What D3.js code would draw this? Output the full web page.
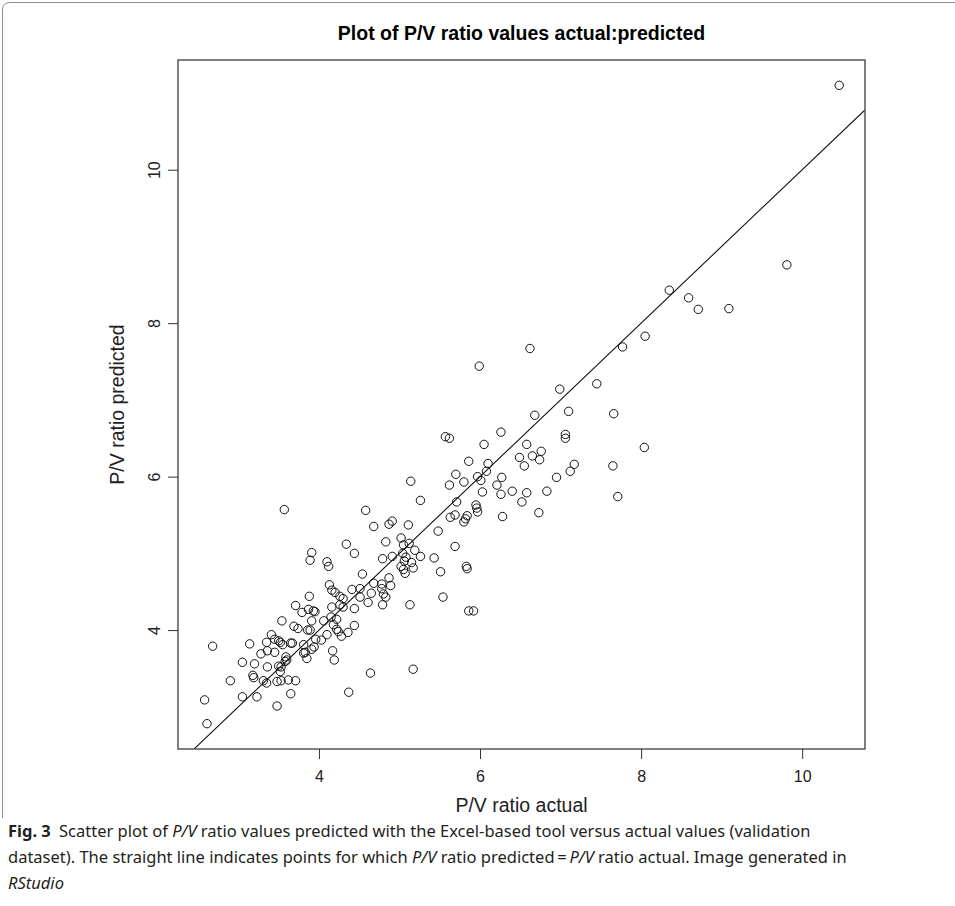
<!DOCTYPE html>
<html>
<head>
<meta charset="utf-8">
<script src="https://cdn.jsdelivr.net/npm/d3@7"></script>
<style>
  body { margin: 0; background: #fff; }
  svg { display: block; }
</style>
</head>
<body>
<script>
// P/V ratio actual (x) and predicted (y)
const actual = [
  3.71, 3.79, 3.87, 3.93, 3.95, 4.16, 4.26, 4.30, 3.54, 3.69, 3.74, 3.91, 3.86, 3.89, 4.06, 4.15,
  4.22, 4.18, 4.22, 4.24, 4.28, 4.36, 2.68, 3.14, 3.41, 3.35, 3.45, 3.50, 3.52, 3.55, 3.65, 3.67,
  3.81, 3.96, 4.03, 4.10, 3.28, 3.36, 3.45, 3.59, 3.81, 3.83, 3.85, 3.91, 3.94, 4.17, 4.19, 3.05,
  3.20, 3.36, 3.50, 3.53, 3.58, 3.60, 3.52, 3.18, 3.19, 2.90, 3.31, 3.35, 3.48, 3.53, 3.62, 3.71,
  3.05, 3.23, 3.65, 2.58, 3.48, 2.61, 4.37,
  4.44, 4.61, 4.79, 5.13, 5.86, 5.92, 4.44, 4.64, 5.17,
  3.57, 3.91, 3.89, 4.10, 4.12, 4.34, 4.13, 4.16, 4.20, 4.26, 4.30, 3.88,
  6.05, 6.58, 5.86, 6.10, 6.49, 6.55, 5.70, 6.08, 5.97, 6.01, 5.80, 5.62, 5.14, 6.21, 6.27, 6.03,
  6.26, 6.40, 6.58, 6.52, 5.26, 5.71, 5.95, 5.96, 5.97, 6.28, 5.63, 5.69, 5.80, 5.82, 5.84, 4.58,
  4.68, 4.87, 4.91, 5.11, 5.48, 5.02, 4.83, 5.05, 5.12, 5.19, 5.69, 4.44, 4.79, 4.91, 5.04, 5.08,
  5.06, 5.15, 5.26, 5.43, 5.02, 5.05, 5.07, 5.17, 4.54, 5.51, 5.83, 5.84, 4.87, 4.89, 4.78, 4.78,
  4.68, 4.51, 4.41, 4.65, 4.80, 4.51, 4.83, 5.54,
  6.76, 6.65, 6.74, 8.04, 7.17, 7.12, 7.65, 6.95, 6.83, 7.71, 6.73,
  6.62, 5.99, 6.99, 7.45, 6.68, 7.10, 6.26, 7.06, 7.06, 5.57, 5.62,
  8.35, 8.59, 8.71, 9.09, 8.05, 7.77, 7.66,
  10.46, 9.81
];
const predicted = [
  4.32, 4.23, 4.27, 4.25, 4.24, 4.30, 4.33, 4.30, 4.12, 4.05, 4.02, 4.12, 4.00, 4.00, 4.12, 4.17,
  4.14, 4.07, 4.01, 3.98, 3.92, 3.97, 3.79, 3.82, 3.94, 3.84, 3.88, 3.86, 3.84, 3.81, 3.83, 3.83,
  3.81, 3.88, 3.87, 3.94, 3.69, 3.73, 3.71, 3.65, 3.70, 3.71, 3.63, 3.75, 3.78, 3.73, 3.61, 3.58,
  3.56, 3.52, 3.53, 3.52, 3.59, 3.61, 3.46, 3.41, 3.38, 3.34, 3.34, 3.31, 3.33, 3.34, 3.35, 3.34,
  3.13, 3.13, 3.17, 3.09, 3.01, 2.78, 3.19,
  4.28, 4.36, 4.33, 4.33, 4.25, 4.25, 4.06, 3.44, 3.49,
  5.57, 5.01, 4.91, 4.89, 4.83, 5.12, 4.59, 4.52, 4.49, 4.44, 4.41, 4.44,
  6.42, 6.42, 6.20, 6.17, 6.25, 6.14, 6.03, 6.07, 6.00, 5.95, 5.93, 5.89, 5.94, 5.89, 5.99, 5.80,
  5.77, 5.81, 5.79, 5.67, 5.69, 5.67, 5.63, 5.59, 5.54, 5.48, 5.47, 5.50, 5.41, 5.45, 5.49, 5.56,
  5.35, 5.38, 5.42, 5.37, 5.29, 5.20, 5.15, 5.11, 5.13, 5.04, 5.09, 5.00, 4.93, 4.96, 5.00, 4.95,
  4.90, 4.88, 4.96, 4.94, 4.83, 4.79, 4.74, 4.81, 4.73, 4.76, 4.83, 4.80, 4.68, 4.58, 4.60, 4.54,
  4.61, 4.54, 4.53, 4.48, 4.47, 4.43, 4.43, 4.43,
  6.33, 6.27, 6.22, 6.38, 6.16, 6.07, 6.14, 5.99, 5.81, 5.74, 5.53,
  7.67, 7.44, 7.14, 7.21, 6.80, 6.85, 6.58, 6.55, 6.50, 6.52, 6.50,
  8.43, 8.33, 8.18, 8.19, 7.83, 7.69, 6.82,
  11.10, 8.76
];
const xTicks = [4, 6, 8, 10];
const yTicks = [4, 6, 8, 10];
const xDomain = [2.25, 10.78];
const yDomain = [2.45, 11.43];

const plot = { left: 178, right: 865, top: 60, bottom: 749 };
const width = 955;
const height = 906;
const tickFont = '16px "Liberation Sans", Arial, sans-serif';
const labelFont = '19.5px "Liberation Sans", Arial, sans-serif';

const svg = d3.select('body').append('svg')
  .attr('width', width)
  .attr('height', height);

const x = d3.scaleLinear().domain(xDomain).range([plot.left, plot.right]);
const y = d3.scaleLinear().domain(yDomain).range([plot.bottom, plot.top]);

// figure frame (rounded corner box of the journal layout)
svg.append('path')
  .attr('d', `M2.5,818 V10 Q2.5,2.5 10,2.5 H${width}`)
  .attr('fill', 'none')
  .attr('stroke', '#8c8c8c')
  .attr('stroke-width', 1);

svg.append('text')
  .attr('x', (plot.left + plot.right) / 2)
  .attr('y', 40)
  .attr('text-anchor', 'middle')
  .style('font', 'bold 19.5px "Liberation Sans", Arial, sans-serif')
  .text('Plot of P/V ratio values actual:predicted');

svg.append('clipPath')
  .attr('id', 'clip')
  .append('rect')
  .attr('x', plot.left)
  .attr('y', plot.top)
  .attr('width', plot.right - plot.left)
  .attr('height', plot.bottom - plot.top);

// y = x reference line
svg.append('line')
  .attr('clip-path', 'url(#clip)')
  .attr('x1', x(xDomain[0]))
  .attr('y1', y(xDomain[0]))
  .attr('x2', x(xDomain[1]))
  .attr('y2', y(xDomain[1]))
  .attr('stroke', '#111')
  .attr('stroke-width', 1.1);

svg.append('g')
  .selectAll('circle')
  .data(actual)
  .join('circle')
  .attr('cx', (d) => x(d))
  .attr('cy', (d, i) => y(predicted[i]))
  .attr('r', 4.2)
  .attr('fill', 'none')
  .attr('stroke', '#111')
  .attr('stroke-width', 1);

svg.append('rect')
  .attr('x', plot.left)
  .attr('y', plot.top)
  .attr('width', plot.right - plot.left)
  .attr('height', plot.bottom - plot.top)
  .attr('fill', 'none')
  .attr('stroke', '#555')
  .attr('stroke-width', 1.5);

const xAxis = svg.append('g')
  .attr('transform', `translate(0, ${plot.bottom})`)
  .call(d3.axisBottom(x).tickValues(xTicks).tickSize(10).tickPadding(12).tickFormat(d3.format('d')));
xAxis.select('.domain').remove();
xAxis.selectAll('line').attr('stroke', '#333');
xAxis.selectAll('text').style('font', tickFont).attr('fill', '#222');

const yAxis = svg.append('g')
  .attr('transform', `translate(${plot.left}, 0)`)
  .call(d3.axisLeft(y).tickValues(yTicks).tickSize(10).tickFormat(d3.format('d')));
yAxis.select('.domain').remove();
yAxis.selectAll('line').attr('stroke', '#333');
yAxis.selectAll('text')
  .attr('transform', 'rotate(-90)')
  .attr('x', 0)
  .attr('y', -18)
  .attr('dy', 0)
  .attr('text-anchor', 'middle')
  .style('font', tickFont)
  .attr('fill', '#222');

svg.append('text')
  .attr('x', (plot.left + plot.right) / 2)
  .attr('y', 812)
  .attr('text-anchor', 'middle')
  .style('font', labelFont)
  .attr('fill', '#222')
  .text('P/V ratio actual');

svg.append('text')
  .attr('transform', `translate(124, ${(plot.top + plot.bottom) / 2}) rotate(-90)`)
  .attr('text-anchor', 'middle')
  .style('font', labelFont)
  .attr('fill', '#222')
  .text('P/V ratio predicted');

// caption
const caption = svg.append('g')
  .style('font', '16.5px "Noto Sans", "Open Sans", sans-serif')
  .attr('fill', '#231f20');

const line1 = caption.append('text').attr('x', 8).attr('y', 837);
line1.append('tspan').style('font-weight', 'bold').text('Fig. 3');
line1.append('tspan').text('\u2002Scatter plot of ');
line1.append('tspan').style('font-style', 'italic').text('P/V');
line1.append('tspan').text(' ratio values predicted with the Excel-based tool versus actual values (validation');

const line2 = caption.append('text').attr('x', 8).attr('y', 863);
line2.append('tspan').text('dataset). The straight line indicates points for which ');
line2.append('tspan').style('font-style', 'italic').text('P/V');
line2.append('tspan').text(' ratio predicted\u2009=\u2009');
line2.append('tspan').style('font-style', 'italic').text('P/V');
line2.append('tspan').text(' ratio actual. Image generated in');

caption.append('text').attr('x', 8).attr('y', 889)
  .style('font-style', 'italic')
  .text('RStudio');
</script>
</body>
</html>
